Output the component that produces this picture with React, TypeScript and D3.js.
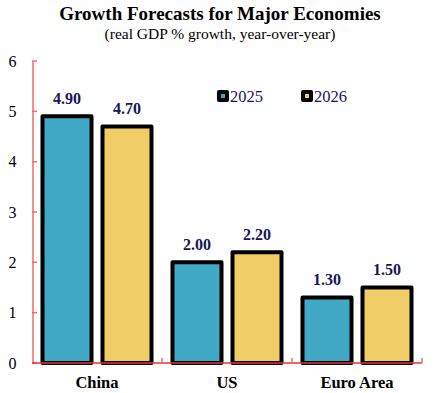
import React from "react";
import * as d3 from "d3";

const categories = ["China", "US", "Euro Area"];
const seriesNames = ["2025", "2026"];
const values2025 = [4.9, 2.0, 1.3];
const values2026 = [4.7, 2.2, 1.5];
const yTicks = [0, 1, 2, 3, 4, 5, 6];
const colors = ["#41A8C6", "#F1CD67"];

export default function App() {
  const W = 440, H = 393;
  const left = 32, right = 422, top = 61, bottom = 363;
  const x = d3.scaleBand<string>().domain(categories).range([left, right]).padding(0);
  const xs = d3.scaleBand<string>().domain(seriesNames).range([0, x.bandwidth()]).paddingInner(0.1833).paddingOuter(0.175);
  const y = d3.scaleLinear().domain([0, 6]).range([bottom, top]);
  const series = [values2025, values2026];
  const font = "'Liberation Serif', 'Times New Roman', serif";
  const navy = "#16165a";

  return (
    <svg width={W} height={H} style={{ position: "absolute", left: 0, top: 0, background: "#fff" }} fontFamily={font}>
      <rect x={0} y={0} width={W} height={H} fill="#fff" />
      <text x={220} y={20} textAnchor="middle" fontSize={19} fontWeight="bold" fill="#000">Growth Forecasts for Major Economies</text>
      <text x={220} y={39} textAnchor="middle" fontSize={15.5} fill="#000">(real GDP % growth, year-over-year)</text>

      {/* y axis */}
      <line x1={left + 1} x2={left + 1} y1={top} y2={bottom} stroke="#f46a6a" strokeWidth={1.5} />
      {yTicks.map((t) => (
        <g key={t}>
          <line x1={left} x2={left + 5} y1={y(t)} y2={y(t)} stroke="#f46a6a" strokeWidth={1.5} />
          <text x={12.5} y={y(t) + 5.5} textAnchor="middle" fontSize={16} fill="#000">{t}</text>
        </g>
      ))}

      {/* bars */}
      {categories.map((c, ci) =>
        seriesNames.map((s, si) => {
          const v = series[si][ci];
          const bx = (x(c) as number) + (xs(s) as number);
          const bw = xs.bandwidth();
          return (
            <g key={c + s}>
              <rect x={bx} y={y(v)} width={bw} height={y(0) - y(v)} fill={colors[si]} stroke="#000" strokeWidth={4} strokeLinejoin="round" />
              <text x={bx + bw / 2} y={y(v) - 12.5} textAnchor="middle" fontSize={16} fontWeight="bold" fill={navy}>{v.toFixed(2)}</text>
            </g>
          );
        })
      )}

      {/* x axis */}
      <line x1={left} x2={right} y1={bottom} y2={bottom} stroke="#e8343a" strokeWidth={1.5} />
      {categories.map((c, i) => (
        <line key={"t" + i} x1={(x(c) as number) + x.bandwidth()} x2={(x(c) as number) + x.bandwidth()} y1={bottom} y2={bottom - 5} stroke="#f46a6a" strokeWidth={1.5} />
      ))}
      {categories.map((c) => (
        <text key={"l" + c} x={(x(c) as number) + x.bandwidth() / 2} y={388} textAnchor="middle" fontSize={16.5} fontWeight="bold" fill="#000">{c}</text>
      ))}

      {/* legend */}
      {seriesNames.map((s, i) => {
        const lx = 219 + i * 84;
        return (
          <g key={"lg" + s}>
            <rect x={lx} y={92} width={8} height={8} fill={colors[i]} stroke="#000" strokeWidth={4} strokeLinejoin="round" />
            <text x={lx + 11} y={102} fontSize={16.5} fill={navy}>{s}</text>
          </g>
        );
      })}
    </svg>
  );
}
